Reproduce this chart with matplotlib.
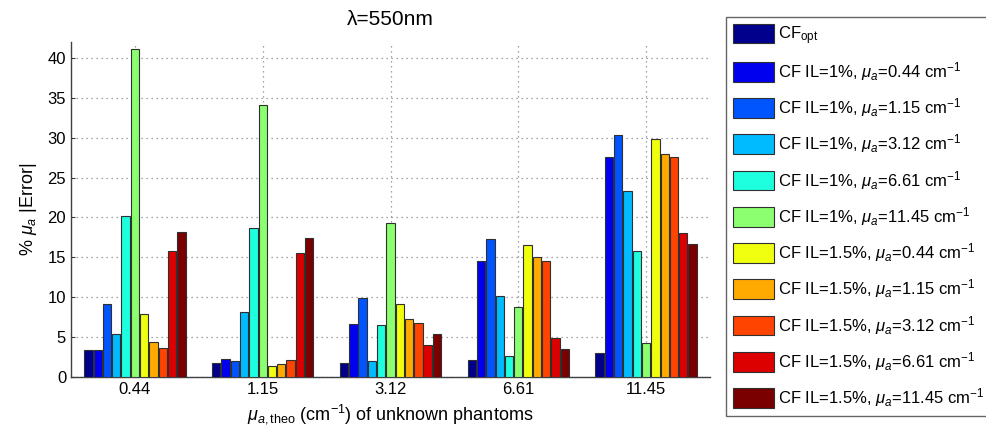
import numpy as np
import matplotlib
matplotlib.use("Agg")
import matplotlib.pyplot as plt

plt.rcParams['font.family'] = ['Liberation Sans', 'DejaVu Sans']
plt.rcParams['mathtext.fontset'] = 'custom'
plt.rcParams['mathtext.rm'] = 'Liberation Sans'
plt.rcParams['mathtext.it'] = 'Liberation Sans:italic'
plt.rcParams['mathtext.bf'] = 'Liberation Sans:bold'

# Phantom absorption values (x categories)
categories = ['0.44', '1.15', '3.12', '6.61', '11.45']

# % |error| in mu_a for each calibration-factor variant
cf_opt      = [3.4, 1.8, 1.7, 2.1, 3.0]
il1_044     = [3.4, 2.2, 6.7, 14.5, 27.6]
il1_115     = [9.1, 2.0, 9.9, 17.3, 30.4]
il1_312     = [5.4, 8.2, 2.0, 10.2, 23.3]
il1_661     = [20.2, 18.7, 6.5, 2.6, 15.8]
il1_1145    = [41.1, 34.1, 19.3, 8.8, 4.3]
il15_044    = [7.9, 1.4, 9.2, 16.6, 29.8]
il15_115    = [4.4, 1.6, 7.3, 15.0, 28.0]
il15_312    = [3.6, 2.1, 6.8, 14.6, 27.6]
il15_661    = [15.8, 15.5, 4.0, 4.9, 18.1]
il15_1145   = [18.2, 17.4, 5.4, 3.5, 16.7]

series = [cf_opt, il1_044, il1_115, il1_312, il1_661, il1_1145,
          il15_044, il15_115, il15_312, il15_661, il15_1145]

labels = [r'CF$_{\mathrm{opt}}$']
for il in ['1%', '1.5%']:
    for mu in ['0.44', '1.15', '3.12', '6.61', '11.45']:
        labels.append('CF IL=' + il + r', $\mu_a$=' + mu + r' cm$^{\mathrm{-1}}$')

colors = ['#00008C', '#0000EE', '#0055FF', '#00BBFF', '#1EFFE0', '#8CFF70',
          '#F0FF10', '#FFAA00', '#FF4400', '#DD0000', '#7A0000']

fig = plt.figure(figsize=(9.86, 4.38), dpi=100)
ax = fig.add_axes([71 / 986, 1 - 377 / 438, (710 - 71) / 986, (377 - 42) / 438])

n = len(series)
x = np.arange(1, len(categories) + 1)
group_w = 0.8
slot = group_w / n
handles = []
for i, (vals, c, lab) in enumerate(zip(series, colors, labels)):
    pos = x - group_w / 2 + slot * (i + 0.5)
    h = ax.bar(pos, vals, width=slot * 0.9, color=c, edgecolor='#303030',
               linewidth=0.8, label=lab, zorder=3)
    handles.append(h)

ax.set_xlim(0.5, 5.5)
ax.set_ylim(0, 42)
ax.set_xticks(x)
ax.set_xticklabels(categories)
ax.set_yticks(np.arange(0, 41, 5))
ax.tick_params(direction='in', length=3, labelsize=12, width=0.8, color='#404040')
ax.set_axisbelow(True)
ax.grid(True, linestyle=(0, (1, 3)), color='#888888', linewidth=0.9)
for side in ['top', 'right']:
    ax.spines[side].set_visible(False)
for side in ['left', 'bottom']:
    ax.spines[side].set_color('#404040')
    ax.spines[side].set_linewidth(1.0)

ax.set_title('\u03bb=550nm', fontsize=15, pad=12)
ax.set_xlabel(r'$\mu_{a,\mathrm{theo}}$ (cm$^{\mathrm{-1}}$) of unknown phantoms', fontsize=13, labelpad=4)
ax.set_ylabel(r'% $\mu_a$ |Error|', fontsize=13, labelpad=6)

leg = fig.legend(handles=handles, labels=labels, loc='upper left',
                 bbox_to_anchor=(726 / 986, 1 - 17 / 438), borderaxespad=0,
                 fontsize=12, handlelength=2.5, handleheight=1.45,
                 handletextpad=0.25, labelspacing=0.8, borderpad=0.4,
                 fancybox=False, frameon=True)
leg.get_frame().set_edgecolor('#404040')
leg.get_frame().set_linewidth(1.0)
for p in leg.get_patches():
    p.set_edgecolor('#303030')

fig.savefig('out.png', dpi=100)
